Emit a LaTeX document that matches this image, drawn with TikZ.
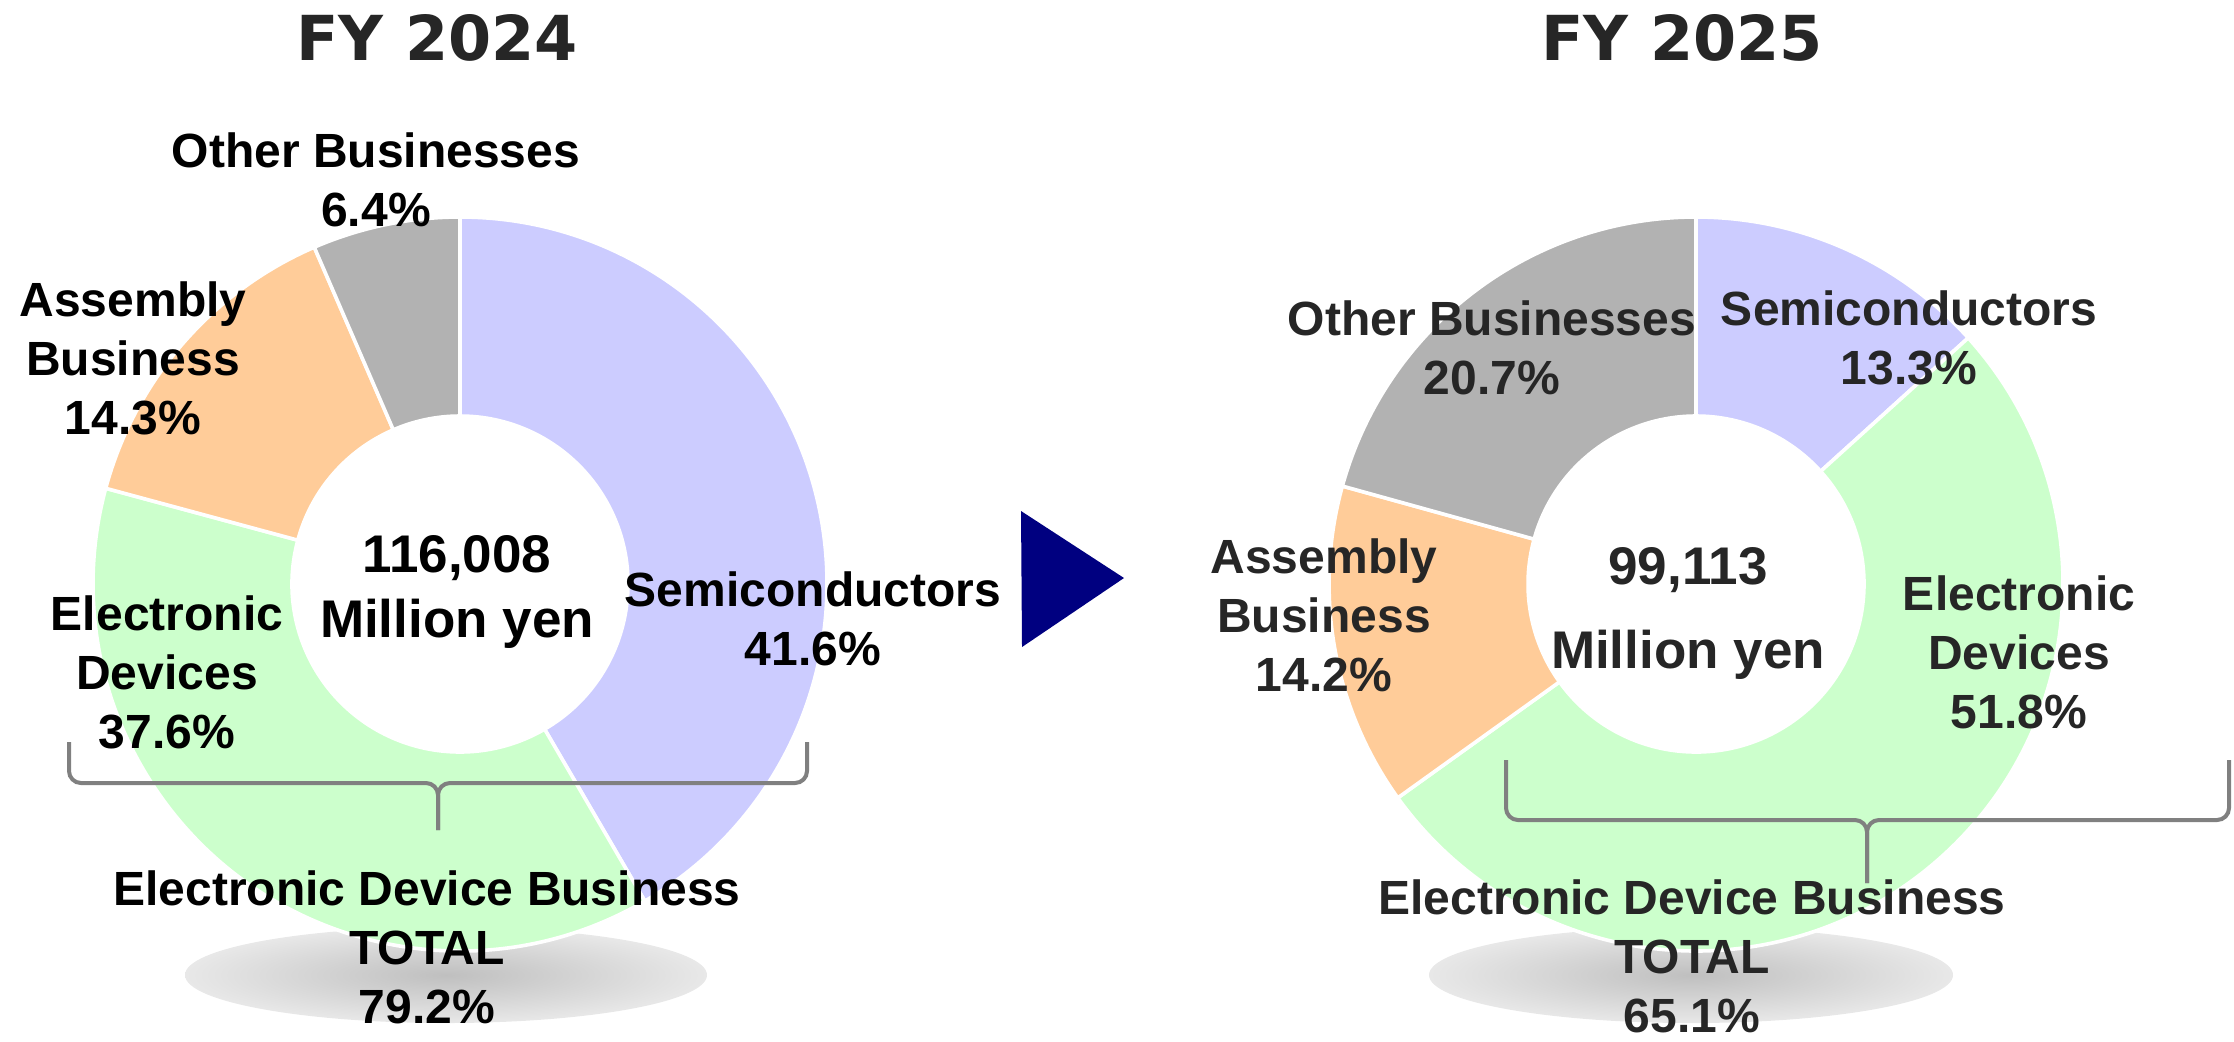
\documentclass[tikz,border=0pt]{standalone}
\usepackage{fontspec}
\setmainfont{Liberation Sans}
\newfontfamily\titlefont{DejaVu Sans}
\usetikzlibrary{calc,positioning}

\definecolor{semi}{HTML}{CCCCFF}
\definecolor{devc}{HTML}{CCFFCC}
\definecolor{asm}{HTML}{FFCC99}
\definecolor{oth}{HTML}{B2B2B2}
\definecolor{navy}{HTML}{000080}
\definecolor{txt}{HTML}{262626}

\tikzset{
  lbl/.style={font=\fontsize{12}{14.75}\selectfont\bfseries, align=center},
  ctr/.style={font=\fontsize{13.25}{16.25}\selectfont\bfseries, align=center},
  ttl/.style={font=\titlefont\fontsize{15.5}{18}\selectfont\bfseries, text=txt},
  brace/.style={draw=gray, line width=1pt, rounded corners=3pt}
}

% one piece of a ring: centre, start angle, end angle, colour
\newcommand{\ringpart}[4]{%
  \filldraw[fill=#4, draw=white, line width=0.9pt]
    ($(#1)+(#2:3.67)$) arc[start angle=#2, end angle=#3, radius=3.67]
    -- ($(#1)+(#3:1.68)$) arc[start angle=#3, end angle=#2, radius=1.68] -- cycle;}

\begin{document}
\begin{tikzpicture}[x=25pt,y=25pt]
\useasboundingbox (0,0) rectangle (22.34,-10.41);

\coordinate (c24) at (4.60,-5.84);
\coordinate (c25) at (16.96,-5.84);

% shadows under the totals
\shade[inner color=black!25, outer color=black!9] (4.46,-9.75) ellipse [x radius=2.61, y radius=0.48];
\shade[inner color=black!25, outer color=black!9] (16.91,-9.75) ellipse [x radius=2.62, y radius=0.48];

% rings
\foreach \a/\b/\c in {90/-59.76/semi, -59.76/-195.12/devc, -195.12/-246.6/asm, -246.6/-270/oth}
  \ringpart{c24}{\a}{\b}{\c};
\foreach \a/\b/\c in {90/42.12/semi, 42.12/-144.36/devc, -144.36/-195.48/asm, -195.48/-270/oth}
  \ringpart{c25}{\a}{\b}{\c};

% braces
\coordinate (b24l) at (0.69,-7.42);
\coordinate (b24r) at (8.07,-7.42);
\coordinate (b24m) at (4.38,-7.83);
\coordinate (b24t) at (4.38,-8.30);
\draw[brace] (b24l) -- (b24l |- b24m) -- (b24m) -- (b24t);
\draw[brace] (b24r) -- (b24r |- b24m) -- (b24m) -- (b24t);

\coordinate (b25l) at (15.06,-7.60);
\coordinate (b25r) at (22.29,-7.60);
\coordinate (b25m) at (18.67,-8.20);
\coordinate (b25t) at (18.67,-8.83);
\draw[brace] (b25l) -- (b25l |- b25m) -- (b25m) -- (b25t);
\draw[brace] (b25r) -- (b25r |- b25m) -- (b25m) -- (b25t);

% arrow between the years
\fill[navy] (10.21,-5.11) -- (11.24,-5.78) -- (10.22,-6.47) -- cycle;

% titles
\node[ttl] (title24) at (4.37,-0.375) {FY 2024};
\node[ttl] (title25) at (16.82,-0.375) {FY 2025};

% FY 2024 labels
\node[lbl] (oth24) at (3.76,-1.80) {Other Businesses\\6.4\%};
\node[lbl] (asm24) at (1.33,-3.58) {Assembly\\Business\\14.3\%};
\node[lbl] (dev24) at (1.67,-6.72) {Electronic\\Devices\\37.6\%};
\node[lbl] (semi24) at (8.13,-6.19) {Semiconductors\\41.6\%};
\node[ctr] (sum24) at (4.57,-5.92) {116,008\\Million yen};
\node[lbl] (edb24) at (4.27,-9.47) {Electronic Device Business\\TOTAL\\79.2\%};

% FY 2025 labels
\begin{scope}[every node/.append style={text=txt}]
\node[lbl] (oth25) at (14.92,-3.48) {Other Businesses\\20.7\%};
\node[lbl] (semi25) at (19.09,-3.38) {Semiconductors\\13.3\%};
\node[lbl] (asm25) at (13.24,-6.15) {Assembly\\Business\\14.2\%};
\node[lbl] (dev25) at (20.19,-6.52) {Electronic\\Devices\\51.8\%};
\node[ctr, font=\fontsize{13.25}{21}\selectfont\bfseries] (sum25) at (16.88,-6.13) {99,113\\Million yen};
\node[lbl] (edb25) at (16.92,-9.56) {Electronic Device Business\\TOTAL\\65.1\%};
\end{scope}
\end{tikzpicture}
\end{document}
